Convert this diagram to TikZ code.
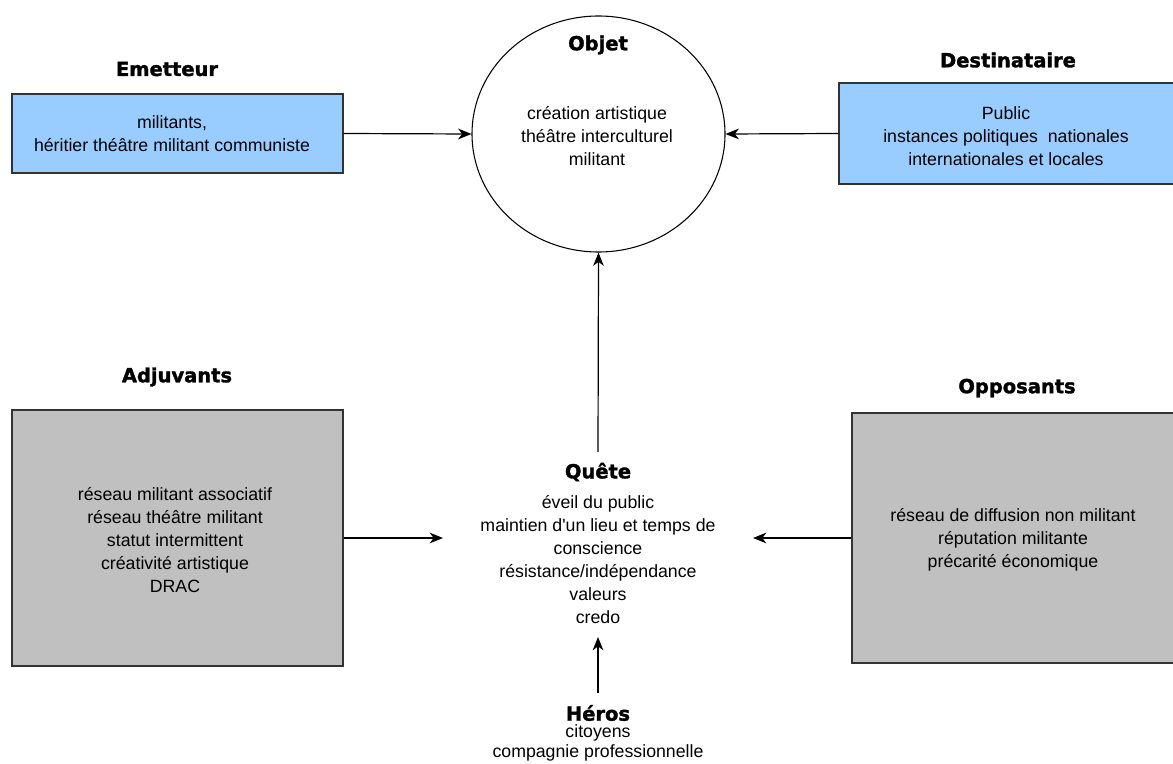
\documentclass[tikz,border=0pt]{standalone}
\usepackage{fontspec}
\setmainfont{Liberation Sans}
\newfontfamily\apfont{Liberation Sans}
\newfontfamily\headfont{DejaVu Sans Bold}[FakeBold=1.6]
\usetikzlibrary{arrows.meta,shapes.geometric}
\definecolor{boxblue}{HTML}{99CCFF}
\definecolor{boxgray}{HTML}{C0C0C0}
\definecolor{edge}{HTML}{333333}
\begin{document}
\begin{tikzpicture}[x=0.75pt,y=-0.75pt,
  head/.style={font=\headfont\fontsize{14.6}{16}\selectfont, inner sep=0pt},
  body/.style={font=\fontsize{13.3}{17.25}\selectfont, align=center, inner sep=0pt},
  bluebox/.style={draw=edge, fill=boxblue, line width=0.9pt},
  graybox/.style={draw=edge, fill=boxgray, line width=0.9pt},
  conn/.style={line width=0.9pt, -{Stealth[length=10pt,width=8pt,inset=3pt]}}]
\useasboundingbox (0,0) rectangle (1173,763);
\fill[white] (0,0) rectangle (1173,763);

% Emetteur
\node[head] (hem) at (167,69) {Emetteur};
\node[bluebox, minimum width=331*0.75pt, minimum height=79*0.75pt, inner sep=0pt] (em) at (177.5,133.5) {};
\node[body] (emt) at (172,134) {militants,\\héritier théâtre militant communiste};

% Destinataire
\node[head] (hde) at (1008,60) {Destinataire};
\node[bluebox, minimum width=341*0.75pt, minimum height=101*0.75pt, inner sep=0pt] (de) at (1009.5,133.5) {};
\node[body] (det) at (1006,136) {Public\\instances politiques\ \ nationales\\internationales et locales};

% Objet
\node[draw, ellipse, line width=0.8pt, minimum width=253*0.75pt, minimum height=236*0.75pt, inner sep=0pt] (obj) at (598.5,134) {};
\node[head] (hob) at (598,45) {Objet};
\node[body] (obt) at (597,136) {création artistique\\théâtre interculturel\\militant};

% Adjuvants
\node[head] (had) at (177,377) {Adjuvants};
\node[graybox, minimum width=331*0.75pt, minimum height=256*0.75pt, inner sep=0pt] (ad) at (177.5,538) {};
\node[body] (adt) at (175,540) {réseau militant associatif\\réseau théâtre militant\\statut intermittent\\créativité artistique\\DRAC};

% Opposants
\node[head] (hop) at (1017,388) {Opposants};
\node[graybox, minimum width=328*0.75pt, minimum height=250*0.75pt, inner sep=0pt] (op) at (1016,538) {};
\node[body] (opt) at (1013,540) {réseau de diffusion non militant\\réputation militante\\précarité économique};

% Quete
\node[head] (hqu) at (598,472) {Quête};
\node[body] (qut) at (598,559.5) {éveil du public\\maintien d{\apfont '}un lieu et temps de\\conscience\\résistance/indépendance\\valeurs\\credo};

% Heros
\node[head] (hhe) at (598,713) {Héros};
\node[body, font=\fontsize{13.3}{15.5}\selectfont] (het) at (598,743) {citoyens\\compagnie professionnelle};

% connector end points
\coordinate (qtop) at (598,452);
\coordinate (qleft) at (443,538);
\coordinate (qright) at (753,538);
\coordinate (qbot) at (598,637);
\coordinate (hetop) at (598,693);

\draw[conn] (em.east) -- (obj.west);
\draw[conn] (de.west) -- (obj.east);
\draw[conn] (qtop) -- (obj.south);
\draw[conn] (ad.east |- qleft) -- (qleft);
\draw[conn] (op.west |- qright) -- (qright);
\draw[conn] (hetop) -- (qbot);
\end{tikzpicture}
\end{document}
